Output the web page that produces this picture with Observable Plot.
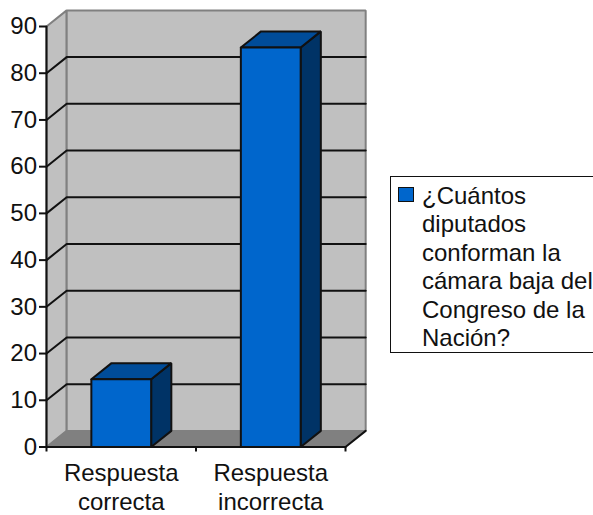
<!DOCTYPE html>
<html>
<head>
<meta charset="utf-8">
<script src="https://cdn.jsdelivr.net/npm/d3@7"></script>
<script src="https://cdn.jsdelivr.net/npm/@observablehq/plot@0.6"></script>
<style>
html,body{margin:0;padding:0;background:#fff;overflow:hidden}
#wrap{position:relative;width:593px;height:515px;font-family:"Liberation Sans",Arial,sans-serif;color:#111}
#wrap svg{position:absolute;left:0;top:0;display:block}
#legend{position:absolute;left:390px;top:176px;width:210px;height:177px;box-sizing:border-box;border:1.5px solid #111;background:#fff}
#swatch{position:absolute;left:7px;top:10px;width:14px;height:13px;background:#0066cc;border:1.5px solid #111;box-sizing:content-box}
#ltext{position:absolute;left:31px;top:5px;font-size:24px;line-height:28.4px;white-space:pre}
</style>
</head>
<body>
<div id="wrap"><div id="legend"><div id="swatch"></div><div id="ltext"></div></div></div>
<script>
const categories = ["Respuesta\ncorrecta", "Respuesta\nincorrecta"];
const values = [14.5, 85.5];
const seriesName = "¿Cuántos\ndiputados\nconforman la\ncámara baja del\nCongreso de la\nNación?";
const yTicks = [0, 10, 20, 30, 40, 50, 60, 70, 80, 90];
const gridValues = [10, 20, 30, 40, 50, 60, 70, 80];

const depthX = 0.135, depthY = 3.45, barWidth = 0.4, yMax = 90, xMax = categories.length;

const poly = (pts) => pts.concat([pts[0]]).map(([x, y]) => ({x, y}));
const shape = (pts, fill, stroke, strokeWidth) =>
  Plot.line(poly(pts), {x: "x", y: "y", fill, stroke, strokeWidth, curve: "linear", strokeLinejoin: "miter"});
const seg = (pts, stroke, strokeWidth) =>
  Plot.line(pts.map(([x, y]) => ({x, y})), {x: "x", y: "y", stroke, strokeWidth, curve: "linear"});

const marks = [
  shape([[0,0],[depthX,depthY],[depthX,yMax+depthY],[0,yMax]], "#c0c0c0", "#808080", 2),
  shape([[depthX,depthY],[xMax+depthX,depthY],[xMax+depthX,yMax+depthY],[depthX,yMax+depthY]], "#c0c0c0", "#808080", 2),
  shape([[0,0],[xMax,0],[xMax+depthX,depthY],[depthX,depthY]], "#808080", "#808080", 1),
  ...gridValues.map(v => seg([[0,v],[depthX,v+depthY],[xMax+depthX,v+depthY]], "#111", 2)),
  seg([[xMax,0],[xMax+depthX,depthY]], "#111", 2),
];

values.forEach((v, i) => {
  const a = i + 0.5 - barWidth / 2, b = i + 0.5 + barWidth / 2;
  marks.push(
    shape([[b,0],[b+depthX,depthY],[b+depthX,v+depthY],[b,v]], "#003366", "#111", 2),
    shape([[a,v],[b,v],[b+depthX,v+depthY],[a+depthX,v+depthY]], "#004c99", "#111", 2),
    shape([[a,0],[b,0],[b,v],[a,v]], "#0066cc", "#111", 2)
  );
});

marks.push(
  seg([[0,0],[xMax,0]], "#111", 2),
  seg([[0,0],[0,yMax]], "#111", 2),
  Plot.axisY({ticks: yTicks, tickSize: 7, tickPadding: 2.5, strokeWidth: 2, stroke: "#111", fill: "#111", fontSize: 24, label: null, tickFormat: d => String(d)}),
  Plot.axisX({ticks: d3.range(xMax + 1), tickSize: 5, strokeWidth: 2, stroke: "#111", label: null, tickFormat: () => ""}),
  Plot.text(categories, {x: (d, i) => i + 0.5, y: 0, dy: 14, lineAnchor: "top", textAnchor: "middle", fontSize: 24, lineHeight: 1.2, fill: "#111", text: d => d})
);

const chart = Plot.plot({
  width: 593,
  height: 515,
  marginLeft: 46,
  marginRight: 248,
  marginTop: 26,
  marginBottom: 68.5,
  x: {domain: [0, xMax]},
  y: {domain: [0, yMax]},
  style: {fontFamily: '"Liberation Sans", Arial, sans-serif', background: "transparent", overflow: "visible"},
  marks
});
const wrap = document.getElementById("wrap");
wrap.insertBefore(chart, wrap.firstChild);
document.getElementById("ltext").textContent = seriesName;
</script>
</body>
</html>
